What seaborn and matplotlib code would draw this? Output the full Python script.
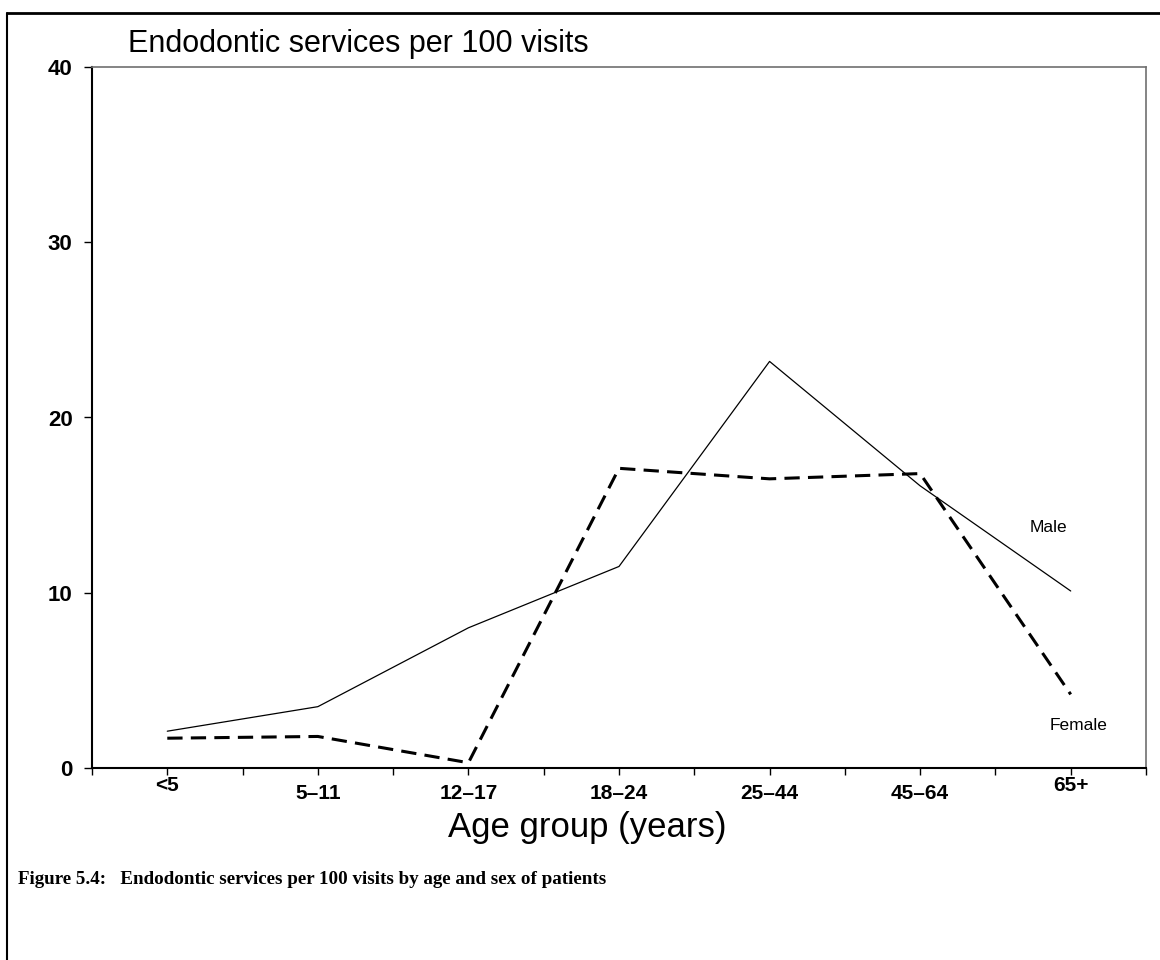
import pandas as pd
import numpy as np
import matplotlib
matplotlib.use("Agg")
import matplotlib.pyplot as plt
from matplotlib.lines import Line2D
import seaborn as sns

age_groups = ["<5", "5–11", "12–17", "18–24", "25–44", "45–64", "65+"]
male = [2.1, 3.5, 8.0, 11.5, 23.2, 16.1, 10.1]
female = [1.7, 1.8, 0.3, 17.1, 16.5, 16.8, 4.2]

df = pd.DataFrame({
    "age": age_groups * 2,
    "rate": male + female,
    "sex": ["Male"] * len(male) + ["Female"] * len(female),
})

sns.set_style("white")
plt.rcParams["font.family"] = ["Liberation Sans", "DejaVu Sans"]
plt.rcParams["text.color"] = "black"
plt.rcParams["xtick.color"] = "black"
plt.rcParams["ytick.color"] = "black"

fig = plt.figure(figsize=(11.6, 9.6), dpi=100)
ax = fig.add_axes([92 / 1160, 1 - 768 / 960, (1146 - 92) / 1160, (768 - 67) / 960])

sns.lineplot(data=df[df["sex"] == "Male"], x="age", y="rate", ax=ax,
             color="black", linewidth=0.9, sort=False)
sns.lineplot(data=df[df["sex"] == "Female"], x="age", y="rate", ax=ax,
             color="black", linewidth=2.2, sort=False)
ax.lines[1].set_dashes([5, 2.7])

ax.set_xlim(-0.5, len(age_groups) - 0.5)
ax.set_ylim(0, 40)
ax.set_xticks(np.arange(-0.5, len(age_groups), 0.5))
ax.set_xticklabels([])
ax.set_yticks([0, 10, 20, 30, 40])
ax.set_yticklabels(["0", "10", "20", "30", "40"], fontsize=16, fontweight="bold")
ax.tick_params(axis="x", direction="out", length=5, width=1, bottom=True)
ax.tick_params(axis="y", direction="out", length=6, width=1, left=True, pad=8)
ax.set_xlabel("")
ax.set_ylabel("")

for side in ["left", "bottom"]:
    ax.spines[side].set_color("black")
    ax.spines[side].set_linewidth(1.5)
for side in ["top", "right"]:
    ax.spines[side].set_color("#707070")
    ax.spines[side].set_linewidth(1.2)

# category labels, the two end ones sit a bit higher like in the original
trans = ax.get_xaxis_transform()
for i, lab in enumerate(age_groups):
    dy = -0.025 if lab in ("<5", "65+") else -0.036
    ax.text(i, dy, lab, transform=trans, ha="center", va="center",
            fontsize=15, fontweight="bold")

ax.text(len(age_groups) - 1.15, 13.75, "Male", fontsize=12.5, ha="center", va="center")
ax.text(len(age_groups) - 0.95, 2.45, "Female", fontsize=12.5, ha="center", va="center")

fig.text(128 / 1160, 1 - 52 / 960, "Endodontic services per 100 visits", fontsize=22,
         ha="left", va="baseline")
fig.text(587 / 1160, 1 - 828 / 960, "Age group (years)", fontsize=25,
         ha="center", va="center")
fig.text(18 / 1160, 1 - 879 / 960,
         "Figure 5.4:   Endodontic services per 100 visits by age and sex of patients",
         fontsize=13.7, fontweight="bold", family=["Liberation Serif", "DejaVu Serif"],
         ha="left", va="center")

# page frame
fig.add_artist(Line2D([7 / 1160, 1.0], [1 - 13 / 960] * 2, transform=fig.transFigure,
                      color="black", linewidth=2))
fig.add_artist(Line2D([7 / 1160] * 2, [0, 1 - 13 / 960], transform=fig.transFigure,
                      color="black", linewidth=1.5))

fig.savefig("out.png", dpi=100)
